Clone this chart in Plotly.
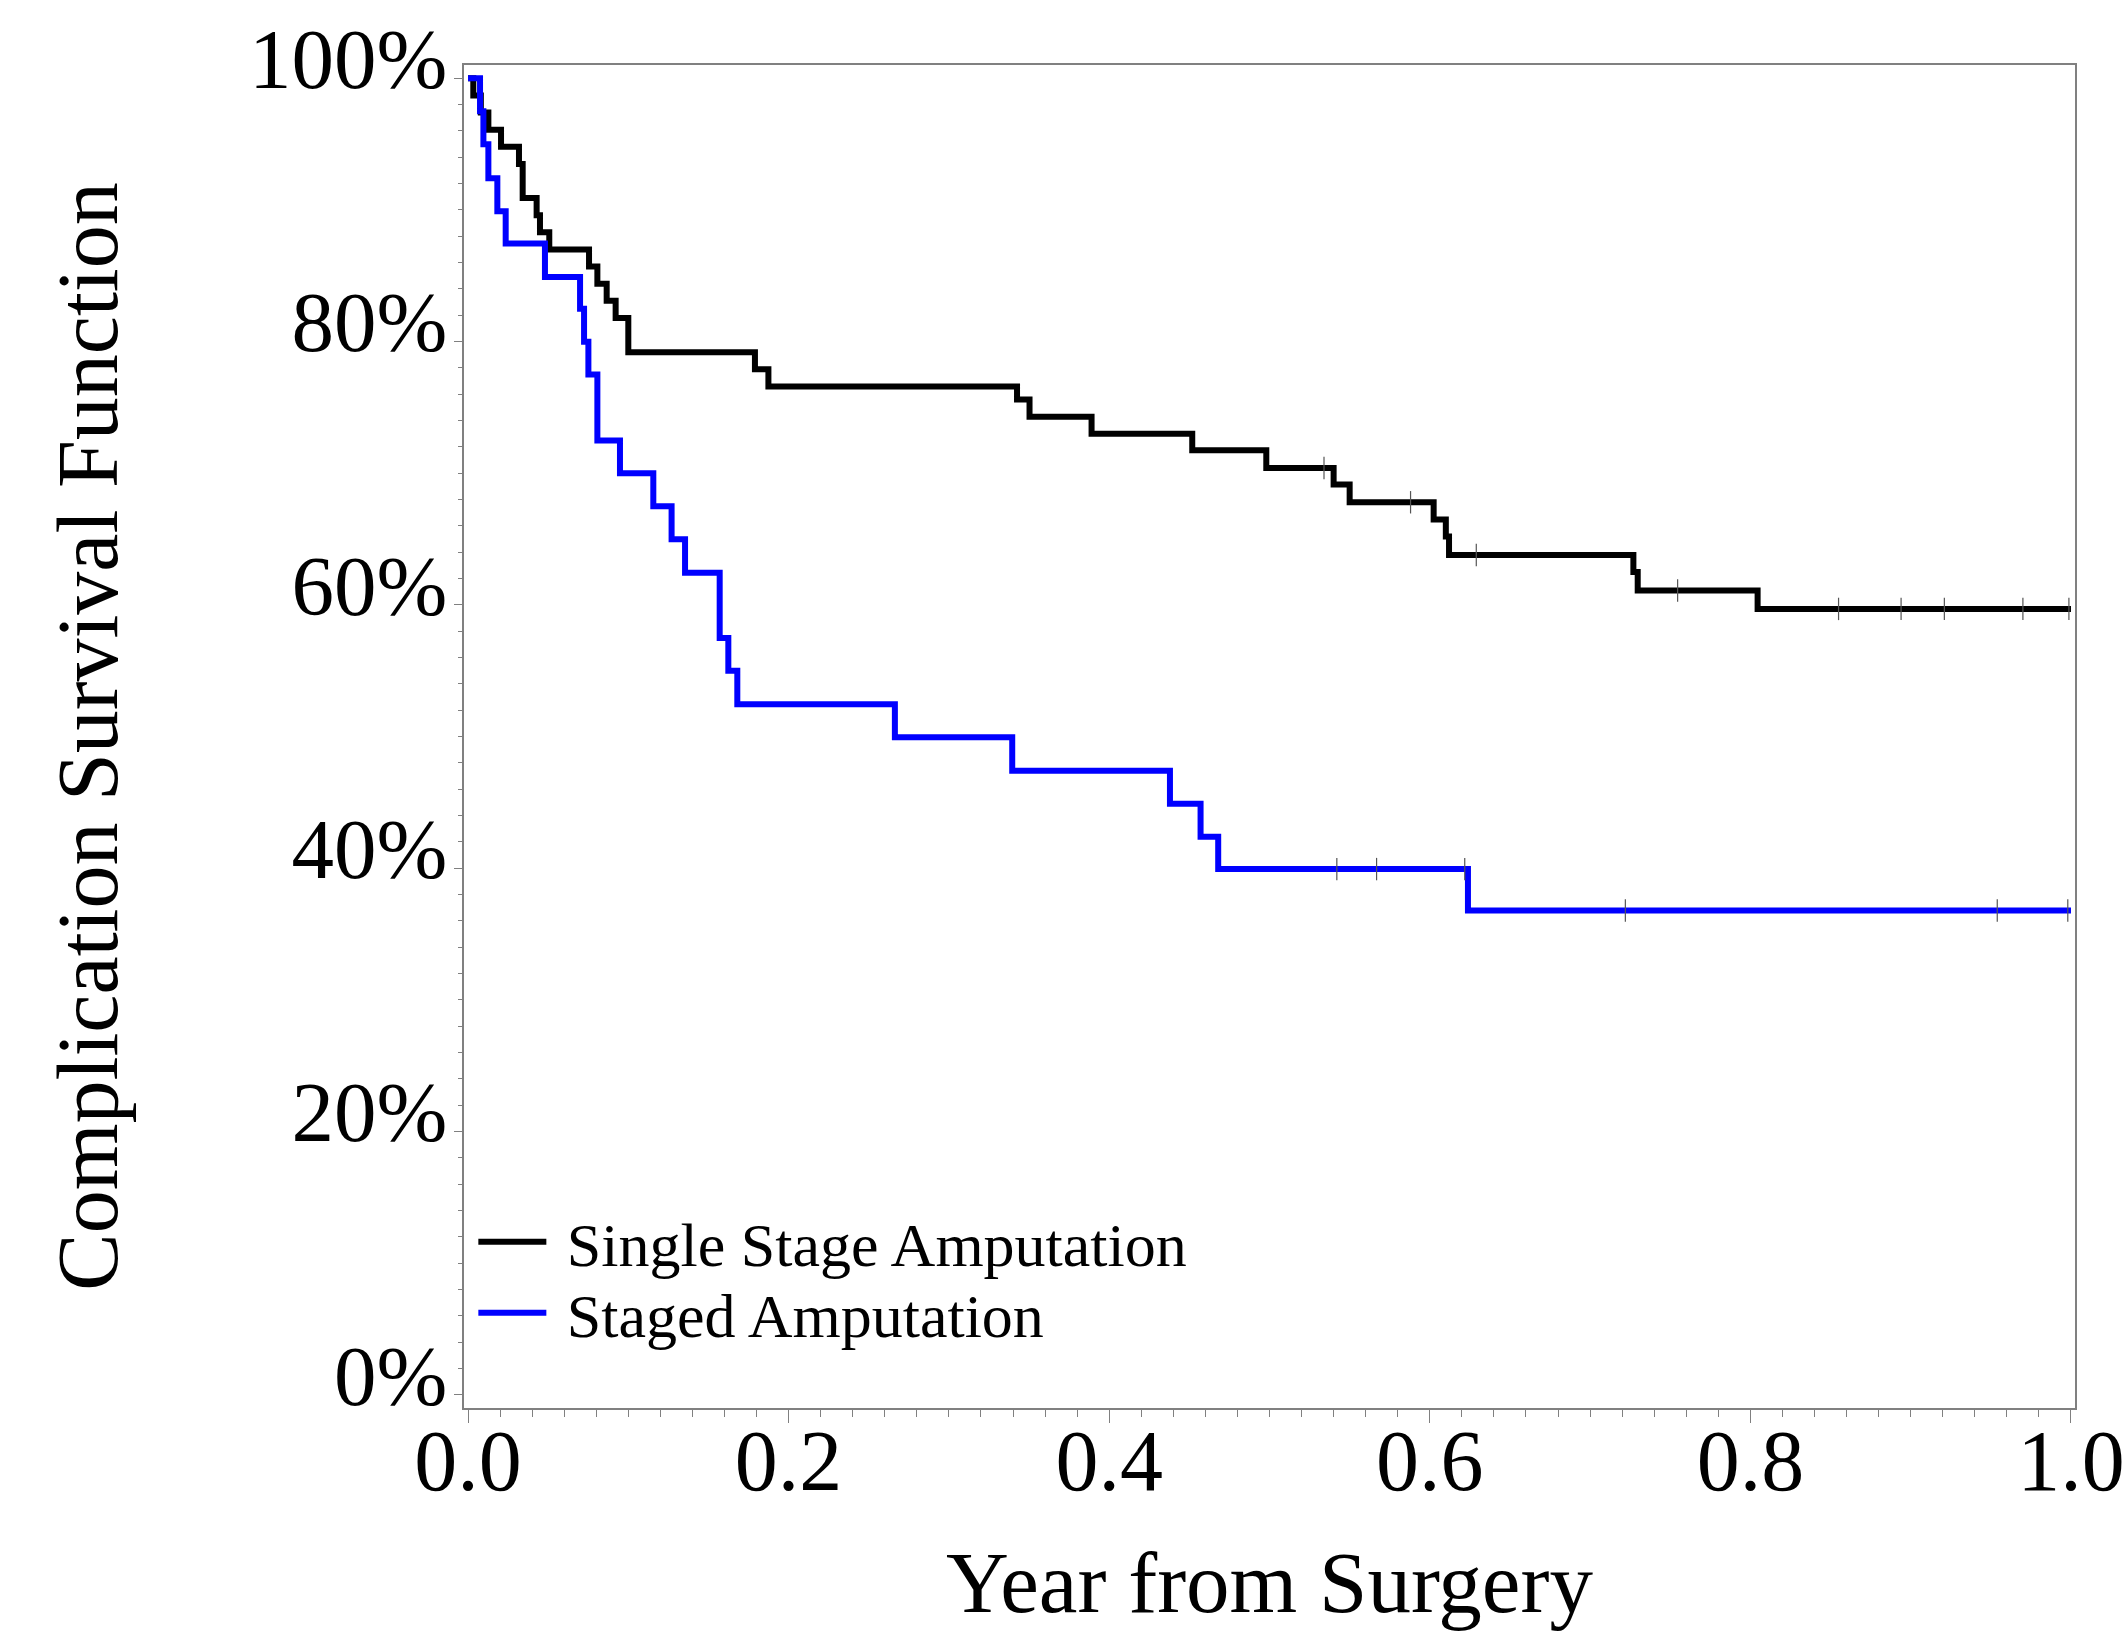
import plotly.graph_objects as go
import bisect

# ---- data (Kaplan-Meier step curves) ----
single_t = [0, 0.0033, 0.008, 0.0127, 0.0206, 0.0318, 0.0341, 0.0428, 0.0449, 0.0507,
            0.0755, 0.0807, 0.0865, 0.0921, 0.100, 0.179, 0.1874, 0.3425, 0.3503, 0.389,
            0.4518, 0.498, 0.540, 0.550, 0.6024, 0.610, 0.612, 0.727, 0.7297, 0.8045, 1.0]
single_s = [1.0, 0.987, 0.974, 0.961, 0.948, 0.935, 0.909, 0.896, 0.883, 0.870,
            0.857, 0.844, 0.831, 0.818, 0.792, 0.779, 0.766, 0.756, 0.743, 0.730,
            0.7175, 0.704, 0.6915, 0.678, 0.665, 0.652, 0.638, 0.625, 0.611, 0.597, 0.597]
single_censor_t = [0.534, 0.588, 0.629, 0.7546, 0.855, 0.894, 0.921, 0.970, 0.9987]

staged_t = [0, 0.0075, 0.0096, 0.0127, 0.0183, 0.0235, 0.048, 0.0699, 0.0724, 0.0751,
            0.0807, 0.0948, 0.1156, 0.127, 0.1354, 0.157, 0.1624, 0.168, 0.2663, 0.3395,
            0.4379, 0.457, 0.468, 0.6238, 1.0]
staged_s = [1.0, 0.975, 0.95, 0.924, 0.899, 0.8745, 0.849, 0.825, 0.800, 0.775,
            0.725, 0.700, 0.675, 0.650, 0.6244, 0.575, 0.550, 0.5245, 0.4995, 0.474,
            0.449, 0.424, 0.3994, 0.368, 0.368]
staged_censor_t = [0.542, 0.5668, 0.6218, 0.722, 0.954, 0.998]

group_names = ["Single Stage Amputation", "Staged Amputation"]
group_colors = ["#000000", "#0000FF"]

x_ticks = [0.0, 0.2, 0.4, 0.6, 0.8, 1.0]
x_tick_labels = ["0.0", "0.2", "0.4", "0.6", "0.8", "1.0"]
y_ticks = [0.0, 0.2, 0.4, 0.6, 0.8, 1.0]
y_tick_labels = ["0%", "20%", "40%", "60%", "80%", "100%"]


def step_value(ts, ss, t):
    i = bisect.bisect_right(ts, t) - 1
    return ss[max(i, 0)]


FONT = "Liberation Serif, Times New Roman, serif"

fig = go.Figure()
for name, color, ts, ss, cts, leg in [
    (group_names[0], group_colors[0], single_t, single_s, single_censor_t, "legend"),
    (group_names[1], group_colors[1], staged_t, staged_s, staged_censor_t, "legend2"),
]:
    fig.add_trace(go.Scatter(x=ts, y=ss, mode="lines", name="\u00a0" + name, legend=leg,
                             line=dict(color=color, width=6, shape="hv")))
    fig.add_trace(go.Scatter(x=cts, y=[step_value(ts, ss, c) for c in cts], mode="markers",
                             showlegend=False, hoverinfo="skip",
                             marker=dict(symbol="line-ns", size=16,
                                         line=dict(color="#555555", width=1.2))))

legend_common = dict(xanchor="left", yanchor="middle",
                     font=dict(family=FONT, size=62, color="black"),
                     bgcolor="rgba(0,0,0,0)", itemwidth=68)

fig.update_layout(
    template="none",
    width=2128, height=1631,
    margin=dict(l=464, r=53, t=65, b=223, autoexpand=False),
    paper_bgcolor="white", plot_bgcolor="white",
    font=dict(family=FONT, color="black"),
    showlegend=True,
    legend=dict(x=0.0058, y=0.1236, **legend_common),
    legend2=dict(x=0.0058, y=0.0707, **legend_common),
    xaxis=dict(range=[-0.0025, 1.0025], tickvals=x_ticks, ticktext=x_tick_labels,
               automargin=False, ticklabeloverflow="allow",
               showgrid=False, zeroline=False, showline=True, linecolor="#808080",
               linewidth=1.5, mirror=True, ticks="outside", ticklen=13, tickwidth=1,
               tickcolor="#808080", tickfont=dict(family=FONT, size=86),
               ticklabelstandoff=-36,
               minor=dict(dtick=0.02, ticks="outside", ticklen=7, tickcolor="#808080",
                          showgrid=False),
               title=dict(text="Year from Surgery", font=dict(family=FONT, size=87),
                          standoff=48)),
    yaxis=dict(range=[-0.0099, 1.0101], tickvals=y_ticks, ticktext=y_tick_labels,
               automargin=False, ticklabeloverflow="allow",
               showgrid=False, zeroline=False, showline=True, linecolor="#808080",
               linewidth=1.5, mirror=True, ticks="outside", ticklen=8, tickwidth=1,
               tickcolor="#808080", tickfont=dict(family=FONT, size=85),
               ticklabelstandoff=-10, ticklabelshift=-20,
               minor=dict(dtick=0.02, ticks="outside", ticklen=4, tickcolor="#808080",
                          showgrid=False),
               title=dict(text="Complication Survival Function",
                          font=dict(family=FONT, size=86), standoff=103)),
)

fig.write_html("out.html", config={"displayModeBar": False},
               post_script="document.body.style.margin='0px';document.body.style.overflow='hidden';")
